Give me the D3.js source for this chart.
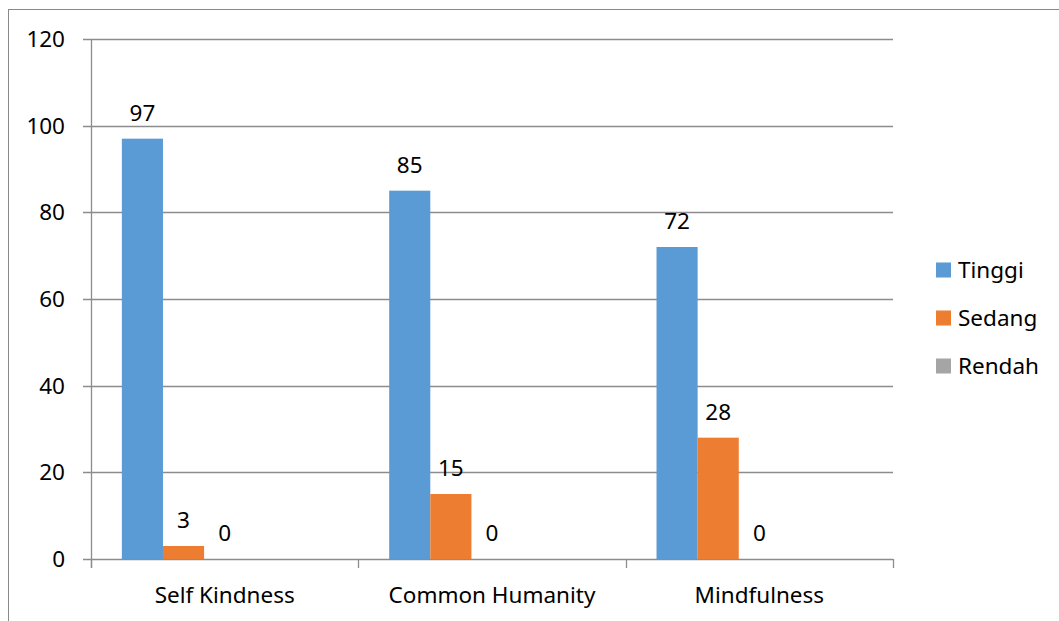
<!DOCTYPE html>
<html>
<head>
<meta charset="utf-8">
<script src="https://cdn.jsdelivr.net/npm/d3@7"></script>
<style>
  body { margin: 0; background: #fff; }
  text { font-family: "Noto Sans", sans-serif; fill: #000; }
</style>
</head>
<body>
<svg id="chart" width="1059" height="621"></svg>
<script>
// data
var categories = ["Self Kindness", "Common Humanity", "Mindfulness"];
var seriesNames = ["Tinggi", "Sedang", "Rendah"];
var tinggi = [97, 85, 72];
var sedang = [3, 15, 28];
var rendah = [0, 0, 0];
var yTicks = [0, 20, 40, 60, 80, 100, 120];

var seriesValues = [tinggi, sedang, rendah];
var colors = ["#5b9bd5", "#ed7d31", "#a5a5a5"];

var svg = d3.select("#chart"),
    width = +svg.attr("width"),
    height = +svg.attr("height");

var plot = { left: 91, right: 893, top: 39, bottom: 559 };
var fontSize = 22.5;

// outer frame (runs off the right and bottom of the picture)
svg.append("rect")
  .attr("x", 8.5).attr("y", 9.5)
  .attr("width", 1060).attr("height", 640)
  .attr("fill", "none").attr("stroke", "#898989").attr("stroke-width", 1);

var x = d3.scaleBand().domain(categories).range([plot.left, plot.right]);
// excel keeps 5 slots per group here (two empty), gap 150%
var xs = d3.scaleBand().domain(d3.range(5)).range([0, x.bandwidth()]).paddingInner(0).paddingOuter(0.75);
var y = d3.scaleLinear().domain([0, 120]).range([plot.bottom, plot.top]);

// gridlines
svg.append("g")
  .selectAll("line")
  .data(yTicks)
  .enter().append("line")
  .attr("x1", plot.left - 8).attr("x2", plot.right)
  .attr("y1", function(d) { return Math.round(y(d)) + 0.5; })
  .attr("y2", function(d) { return Math.round(y(d)) + 0.5; })
  .attr("stroke", "#8c8c8c").attr("stroke-width", 1.3);

// y axis line
svg.append("line")
  .attr("x1", plot.left + 0.5).attr("x2", plot.left + 0.5)
  .attr("y1", plot.top).attr("y2", plot.bottom + 9)
  .attr("stroke", "#8c8c8c").attr("stroke-width", 1.3);

// y tick labels
svg.append("g")
  .selectAll("text")
  .data(yTicks)
  .enter().append("text")
  .attr("x", 65)
  .attr("y", function(d) { return y(d); })
  .attr("dy", "0.36em")
  .attr("text-anchor", "end")
  .attr("font-size", fontSize)
  .text(function(d) { return d; });

// x axis tick marks between categories
var xTickPos = categories.map(function(c) { return x(c); }).concat([plot.right]);
svg.append("g")
  .selectAll("line")
  .data(xTickPos)
  .enter().append("line")
  .attr("x1", function(d) { return Math.round(d) + 0.5; })
  .attr("x2", function(d) { return Math.round(d) + 0.5; })
  .attr("y1", plot.bottom).attr("y2", plot.bottom + 9)
  .attr("stroke", "#8c8c8c").attr("stroke-width", 1.3);

// category labels
svg.append("g")
  .selectAll("text")
  .data(categories)
  .enter().append("text")
  .attr("x", function(d) { return x(d) + x.bandwidth() / 2; })
  .attr("y", 603)
  .attr("text-anchor", "middle")
  .attr("font-size", fontSize)
  .text(function(d) { return d; });

// bars + value labels
seriesValues.forEach(function(vals, si) {
  var g = svg.append("g");
  g.selectAll("rect")
    .data(vals)
    .enter().append("rect")
    .attr("x", function(d, i) { return x(categories[i]) + xs(si); })
    .attr("y", function(d) { return y(d); })
    .attr("width", xs.bandwidth())
    .attr("height", function(d) { return y(0) - y(d); })
    .attr("fill", colors[si]);

  g.selectAll("text")
    .data(vals)
    .enter().append("text")
    .attr("x", function(d, i) { return x(categories[i]) + xs(si) + xs.bandwidth() / 2; })
    .attr("y", function(d) { return y(d) - 18; })
    .attr("text-anchor", "middle")
    .attr("font-size", fontSize)
    .text(function(d) { return d; });
});

// legend
var legend = svg.append("g")
  .selectAll("g")
  .data(seriesNames)
  .enter().append("g")
  .attr("transform", function(d, i) { return "translate(936," + (270 + i * 48) + ")"; });

legend.append("rect")
  .attr("x", 0).attr("y", -7.5)
  .attr("width", 15).attr("height", 15)
  .attr("fill", function(d, i) { return colors[i]; });

legend.append("text")
  .attr("x", 22).attr("y", 0)
  .attr("dy", "0.36em")
  .attr("font-size", fontSize)
  .text(function(d) { return d; });
</script>
</body>
</html>
